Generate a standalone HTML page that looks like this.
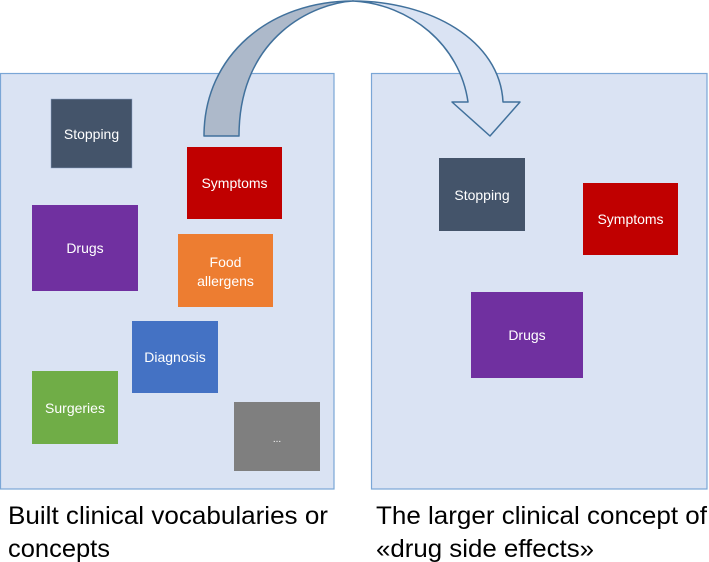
<!DOCTYPE html>
<html><head><meta charset="utf-8"><style>
html,body{margin:0;padding:0;background:#fff;}
svg{display:block;}
text{font-family:"Liberation Sans",sans-serif;}
</style></head><body>
<svg width="709" height="562" viewBox="0 0 709 562" xmlns="http://www.w3.org/2000/svg">
<rect x="0.5" y="73.5" width="333.5" height="415.5" fill="#dae3f3" stroke="#7aa6d6" stroke-width="1.2"/>
<rect x="371.5" y="73.5" width="335.5" height="415.5" fill="#dae3f3" stroke="#7aa6d6" stroke-width="1.2"/>
<!-- arrow -->
<path d="M204,136 C204,55 270,1 353,1 C316,3 239,35 239,136 Z" fill="#adb9ca" stroke="#41719c" stroke-width="1.5" stroke-linejoin="round"/>
<path d="M353,1 C430,1 500,40 503,102 L520,102 L490,136 L452,102 L468,102 C460,45 410,4 353,1 Z" fill="#dae3f3" stroke="#41719c" stroke-width="1.5" stroke-linejoin="round"/>
<g font-size="14" fill="#fff" text-anchor="middle">
<rect x="51" y="99" width="81" height="69" fill="#44546a" stroke="#8ea4c8" stroke-width="0.5"/><text x="91.5" y="139">Stopping</text>
<rect x="187" y="147" width="95" height="72" fill="#c00000"/><text x="234.5" y="188">Symptoms</text>
<rect x="32" y="205" width="106" height="86" fill="#7030a0"/><text x="85" y="253">Drugs</text>
<rect x="178" y="234" width="95" height="73" fill="#ed7d31"/><text x="225.5" y="267">Food</text><text x="225.5" y="286">allergens</text>
<rect x="132" y="321" width="86" height="72" fill="#4472c4"/><text x="175" y="362">Diagnosis</text>
<rect x="32" y="371" width="86" height="73" fill="#70ad47"/><text x="75" y="413">Surgeries</text>
<rect x="234" y="402" width="86" height="69" fill="#7f7f7f"/><text x="277" y="442" font-size="10">...</text>
<rect x="439" y="158" width="86" height="73" fill="#44546a"/><text x="482" y="200">Stopping</text>
<rect x="583" y="183" width="95" height="72" fill="#c00000"/><text x="630.5" y="224">Symptoms</text>
<rect x="471" y="292" width="112" height="86" fill="#7030a0"/><text x="527" y="340">Drugs</text>
</g>
<g font-size="25" fill="#000">
<text x="8" y="524" textLength="320" lengthAdjust="spacingAndGlyphs">Built clinical vocabularies or</text>
<text x="8" y="557" textLength="102" lengthAdjust="spacingAndGlyphs">concepts</text>
<text x="376" y="524" textLength="331" lengthAdjust="spacingAndGlyphs">The larger clinical concept of</text>
<text x="376" y="557" textLength="218" lengthAdjust="spacingAndGlyphs">«drug side effects»</text>
</g>
</svg>
</body></html>
